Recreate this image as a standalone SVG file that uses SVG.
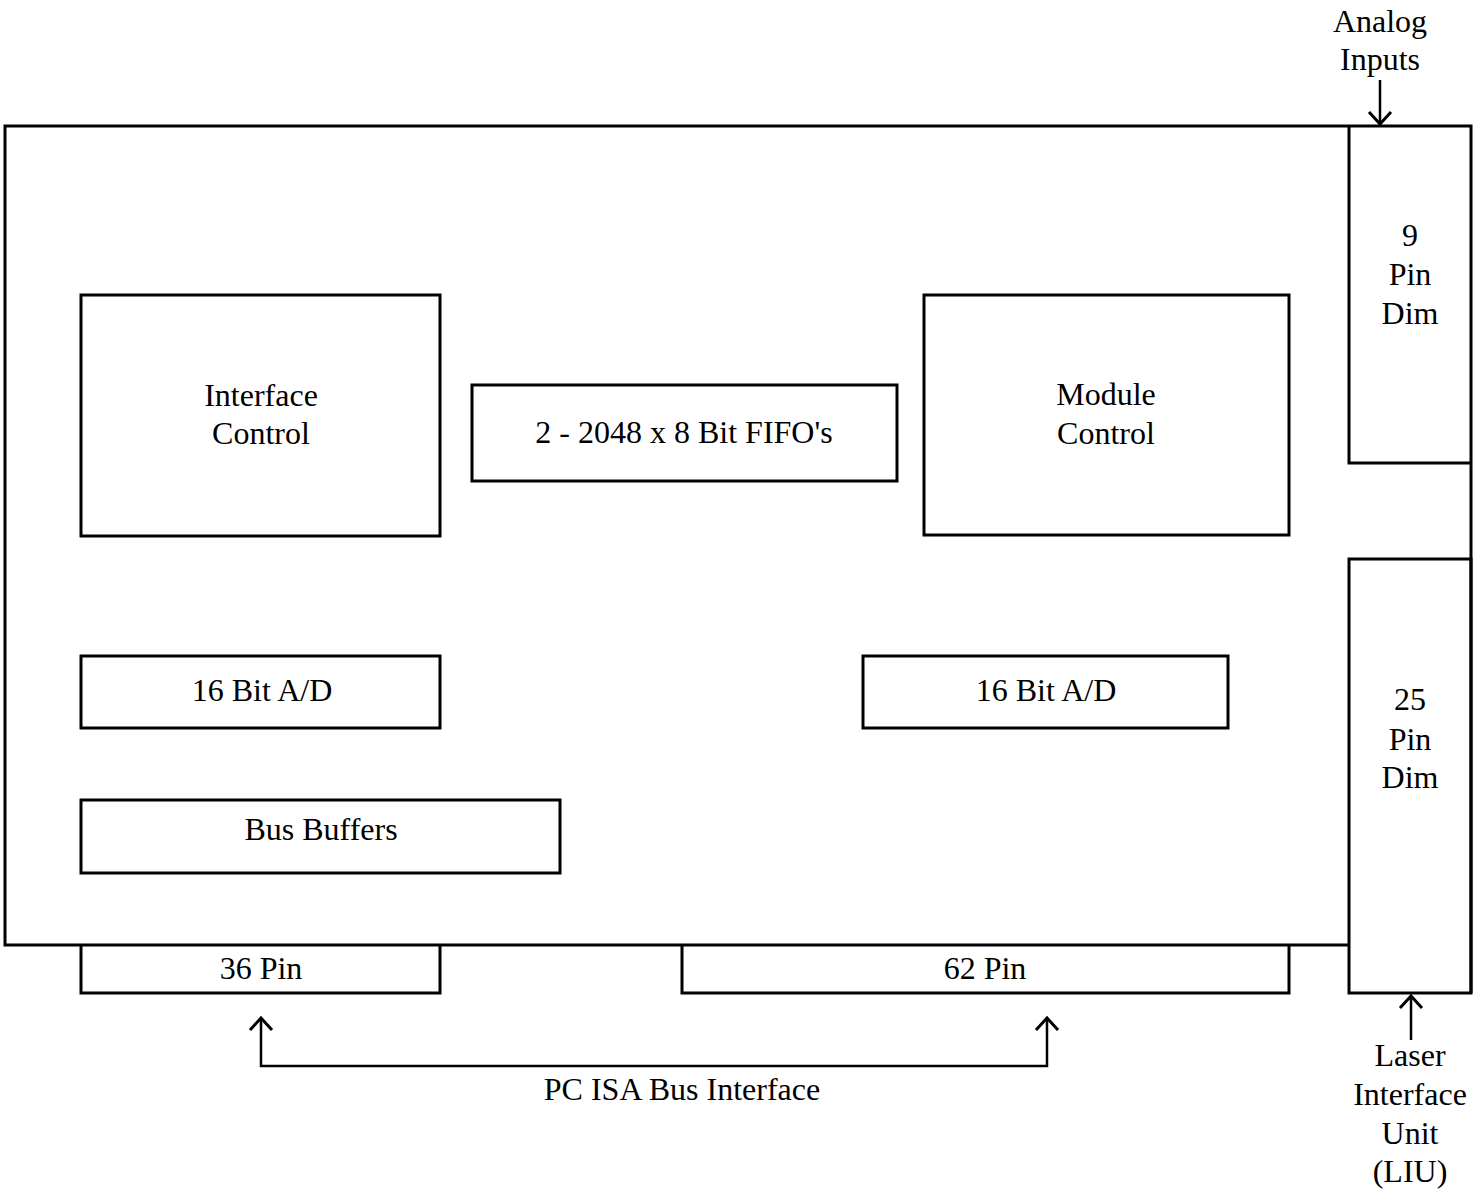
<svg xmlns="http://www.w3.org/2000/svg" width="1477" height="1192" viewBox="0 0 1477 1192">
<style>
.b{fill:none;stroke:#000;stroke-width:3}
.l{fill:none;stroke:#000;stroke-width:2.5}
.h{fill:none;stroke:#000;stroke-width:3;stroke-linejoin:miter}
text{font-family:"Liberation Serif","Times New Roman",serif;font-size:32px;fill:#000;text-anchor:middle}
</style>
<rect width="1477" height="1192" fill="#fff"/>
<g id="board">
<path class="b" d="M1349,945 H5 V126 H1471 V993"/>
</g>
<g id="pin9">
<path class="b" d="M1349,126 V463 H1471"/>
<text x="1410" y="246">9</text><text x="1410" y="285">Pin</text><text x="1410" y="324">Dim</text>
</g>
<g id="pin25">
<rect class="b" x="1349" y="559" width="122" height="434"/>
<text x="1410" y="710">25</text><text x="1410" y="750">Pin</text><text x="1410" y="788">Dim</text>
</g>
<g id="interface-control">
<rect class="b" x="81" y="295" width="359" height="241"/>
<text x="261" y="406">Interface</text><text x="261" y="444">Control</text>
</g>
<g id="fifo">
<rect class="b" x="472" y="385" width="425" height="96"/>
<text x="684" y="443">2 - 2048 x 8 Bit FIFO's</text>
</g>
<g id="module-control">
<rect class="b" x="924" y="295" width="365" height="240"/>
<text x="1106" y="405">Module</text><text x="1106" y="444">Control</text>
</g>
<g id="ad-left">
<rect class="b" x="81" y="656" width="359" height="72"/>
<text x="262" y="701">16 Bit A/D</text>
</g>
<g id="ad-right">
<rect class="b" x="863" y="656" width="365" height="72"/>
<text x="1046" y="701">16 Bit A/D</text>
</g>
<g id="bus-buffers">
<rect class="b" x="81" y="800" width="479" height="73"/>
<text x="321" y="840">Bus Buffers</text>
</g>
<g id="pin36">
<path class="b" d="M81,945 V993 H440 V945"/>
<text x="261" y="979">36 Pin</text>
</g>
<g id="pin62">
<path class="b" d="M682,945 V993 H1289 V945"/>
<text x="985" y="979">62 Pin</text>
</g>
<g id="labels">
<text x="1380" y="32">Analog</text><text x="1380" y="70">Inputs</text>
<text x="682" y="1100">PC ISA Bus Interface</text>
<text x="1410" y="1066">Laser</text><text x="1410" y="1105">Interface</text><text x="1410" y="1144">Unit</text><text x="1410" y="1182">(LIU)</text>
</g>
<g id="connectors">
<path class="l" d="M1380,80 V124"/>
<path class="h" d="M1369,112 L1380,124 L1391,112"/>
<path class="l" d="M1411,1040 V996"/>
<path class="h" d="M1400,1008 L1411,996 L1422,1008"/>
<path class="l" d="M261,1018 V1066 H1047 V1018"/>
<path class="h" d="M250,1030 L261,1018 L272,1030"/>
<path class="h" d="M1036,1030 L1047,1018 L1058,1030"/>
</g>
</svg>
